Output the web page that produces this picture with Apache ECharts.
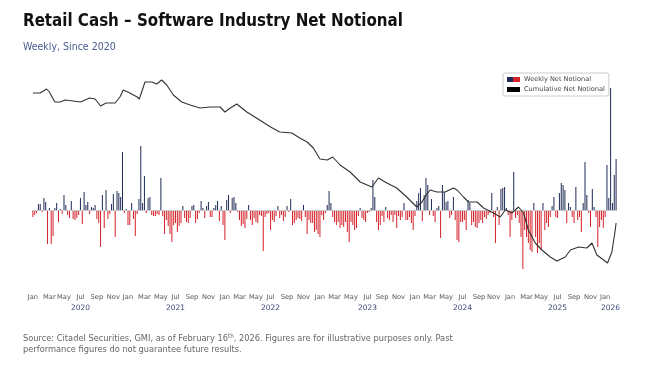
<!DOCTYPE html>
<html><head><meta charset="utf-8">
<script src="https://cdn.jsdelivr.net/npm/echarts@6/dist/echarts.min.js"></script>
<style>html,body{margin:0;padding:0;background:#fff}#c{width:654px;height:380px}</style>
</head><body><div id="c"></div>
<script>
// Weekly net notional (arbitrary units), one value per week, by calendar year
const weekly2020 = [-7,-5,-3,6,6,-2,12,8,-34,2,-34,-26,2,7,-12,1,-4,15,5,-5,-8,9,-9,-10,-8,-5,12,-14,18,5,8,-4,3,2,5,-9,-13,-37,15,-18,20,-9,-4,6,16,-27,19,17,13,58,-3,1];
const weekly2021 = [-15,-15,7,-9,-26,-4,11,64,7,34,-3,12,13,-5,-6,-6,-4,-5,32,-6,-24,-10,-16,-24,-32,-15,-13,-22,-16,-13,4,-8,-12,-13,-8,4,5,-13,-9,-3,9,2,-8,4,8,-7,-7,2,5,9,-11,4,-15];
const weekly2022 = [-30,10,15,-3,12,13,7,-2,-10,-16,-14,-18,-9,5,-10,-15,-8,-12,-13,-5,-6,-41,-7,-4,-3,-20,-10,-12,-6,4,-8,-5,-11,-7,4,-2,11,-15,-13,-10,-8,-9,-11,5,-7,-24,-10,-13,-13,-22,-20,-24];
const weekly2023 = [-27,-5,-10,-3,5,19,7,-7,-12,-15,-12,-18,-15,-17,-12,-22,-32,-12,-15,-20,-18,-6,2,-8,-10,-12,-3,-2,2,30,13,-12,-20,-15,-6,-12,3,-8,-10,-5,-12,-5,-18,-6,-10,-7,7,-10,-10,-7,-13,-20];
const weekly2024 = [-6,9,17,22,-11,15,32,25,-5,11,-6,-12,2,4,-28,25,18,8,9,-8,-5,13,-10,-30,-32,-12,-12,-10,-20,10,7,-15,-12,-17,-18,-13,-10,-13,-7,-9,-5,-3,17,-7,-33,3,-15,21,22,23,2,-5];
const weekly2025 = [-27,-10,38,-8,-5,-13,-27,-59,-20,-27,-33,-40,-42,7,-27,-43,-33,-40,7,-20,-13,-17,-7,4,13,-7,-8,17,27,25,20,-13,7,3,-7,-13,23,-10,-7,-22,7,48,15,-3,-17,21,3,-7,-37,-17,-10,-18];
const weekly2026 = [-7,45,12,122,7,35,51];

// Cumulative net notional: [week index since 3 Jan 2020, value]
const cumulativeLine = [
 [0,117],[4,117],[7.5,121],[9,118],[12,108],[15,108],[17.5,110],[22,109],[26,108],[31,112],[34,111],[37,104],
 [40,107],[45,107],[47.6,113],[49.4,120],[53,117],[57,113],[58.2,111],[59.5,118],[61.3,128],[65,128],[67.7,126],
 [70.4,130],[73.2,125],[76.8,115],[81.4,108],[86,105],[91.4,102],[97,103],[102.4,103],[105,98],[108,102],[111.5,106],
 [117,98],[124,90],[130,83],[135,78],[141.6,77],[146,72],[150,68],[153.4,62],[157,51],[161,50],[164,53],[168,45],
 [173.5,38],[179,28],[185.4,23],[189,32],[193.6,27],[199,22],[204.5,13],[210,3],[212.8,8],[215.5,16],[217.3,20],
 [221,18],[225.5,18],[230,22],[232,20],[235.5,13],[238.3,8],[243,8],[246.5,2],[252,-3],[255.6,-7],[258.4,0],
 [262,-3],[265.6,3],[268.4,-3],[271,-20],[274.8,-33],[278.4,-40],[283,-47],[286.6,-51],[291.2,-47],[294,-40],
 [298.5,-37],[303,-38],[305.8,-33],[308.5,-45],[312.2,-50],[314.3,-53],[316.7,-42],[318.3,-23],[319,-13]
];

const monthNames = ['Jan','Feb','Mar','Apr','May','Jun','Jul','Aug','Sep','Oct','Nov','Dec'];
const startDate = '2020-01-03';

const weeklyNet = [].concat(weekly2020, weekly2021, weekly2022, weekly2023, weekly2024, weekly2025, weekly2026);
const N = weeklyNet.length;
const t0 = Date.parse(startDate + 'T00:00:00Z');
const dates = [];
for (let i = 0; i < N; i++) dates.push(new Date(t0 + i * 7 * 86400000));
const cats = dates.map(d => d.toISOString().slice(0,10));

const monthShow = dates.map(d => d.getUTCDate() <= 7 && d.getUTCMonth() % 2 === 0);
const yearIdx = {};
const lastYear = dates[N-1].getUTCFullYear();
dates.forEach((d,i) => {
  const y = d.getUTCFullYear();
  if (y !== lastYear && d.getUTCMonth() === 6 && d.getUTCDate() <= 7) yearIdx[i] = y;
});
{ const idx = dates.map((d,i)=>[d,i]).filter(p=>p[0].getUTCFullYear()===lastYear).map(p=>p[1]);
  yearIdx[idx[Math.floor(idx.length/2)]] = lastYear; }

const NAVY = '#1f2b55', RED = '#d42028';
const chart = echarts.init(document.getElementById('c'), null, {renderer:'canvas'});
chart.setOption({
  animation: false,
  backgroundColor: '#fff',
  title: [
    {text: 'Retail Cash – Software Industry Net Notional', left: 18, top: 8,
     textStyle: {fontFamily: 'DejaVu Sans Condensed', fontWeight: 'bold', fontSize: 16.8, color: '#111'}},
    {text: 'Weekly, Since 2020', left: 18, top: 37,
     textStyle: {fontFamily: 'DejaVu Sans Condensed', fontWeight: 'normal', fontSize: 10.5, color: '#4a5d8f'}},
    {text: 'Source: Citadel Securities, GMI, as of February 16{sup|th}, 2026. Figures are for illustrative purposes only. Past\nperformance figures do not guarantee future results.',
     left: 18, top: 328,
     textStyle: {fontFamily: 'DejaVu Sans Condensed', fontWeight: 'normal', fontSize: 9.2, color: '#666', lineHeight: 11,
       rich: {sup: {fontSize: 6.3, verticalAlign: 'top', color: '#666', fontFamily: 'DejaVu Sans Condensed', lineHeight: 8}}}}
  ],
  legend: {
    orient: 'vertical', left: 503, top: 73, padding: [3,4,3,4], itemGap: 3,
    itemWidth: 13, itemHeight: 5, borderColor: '#ccc', borderWidth: 1, borderRadius: 2, backgroundColor: '#fff',
    textStyle: {fontFamily: 'DejaVu Sans', fontSize: 6.6, color: '#444', padding: [0,0,0,-1]},
    data: [
      {name: 'Weekly Net Notional', icon: 'rect', itemStyle: {color: {type:'linear', x:0, y:0, x2:1, y2:0,
        colorStops: [{offset:0,color:NAVY},{offset:0.5,color:NAVY},{offset:0.5,color:RED},{offset:1,color:RED}]}}},
      {name: 'Cumulative Net Notional', icon: 'rect', itemStyle: {color: '#000'}}
    ]
  },
  grid: {left: 32, right: 37, top: 75, bottom: 90, containLabel: false},
  xAxis: [
    {type: 'category', data: cats, boundaryGap: true,
     axisLine: {show: false}, axisTick: {show: false}, splitLine: {show: false},
     axisLabel: {interval: (i) => monthShow[i], formatter: (v) => monthNames[new Date(v + 'T00:00:00Z').getUTCMonth()],
       fontFamily: 'DejaVu Sans', fontSize: 6.7, color: '#555', margin: 4, hideOverlap: false}},
    {type: 'category', data: cats, boundaryGap: true, position: 'bottom', offset: 10,
     axisLine: {show: false}, axisTick: {show: false}, splitLine: {show: false},
     axisLabel: {interval: (i) => yearIdx[i] !== undefined, formatter: (v, i) => String(new Date(v + 'T00:00:00Z').getUTCFullYear()),
       fontFamily: 'DejaVu Sans', fontSize: 7.5, color: '#3c4a78', margin: 4, hideOverlap: false}},
    {type: 'value', min: -0.5, max: N - 0.5, show: false}
  ],
  yAxis: [{type: 'value', min: -80, max: 135, show: false, splitLine: {show: false}}],
  series: [
    {name: 'Weekly Net Notional', type: 'bar', xAxisIndex: 0, yAxisIndex: 0, barWidth: 1,
     data: weeklyNet, itemStyle: {color: (p) => p.value >= 0 ? NAVY : RED},
     markLine: {silent: true, symbol: 'none', label: {show: false}, lineStyle: {color: '#c8c8c8', width: 1, type: 'solid'},
       data: [{yAxis: 0}]}},
    {name: 'Cumulative Net Notional', type: 'line', xAxisIndex: 2, yAxisIndex: 0, data: cumulativeLine,
     showSymbol: false, symbol: 'none', lineStyle: {color: '#333', width: 1.1}, z: 5}
  ]
});
</script></body></html>
